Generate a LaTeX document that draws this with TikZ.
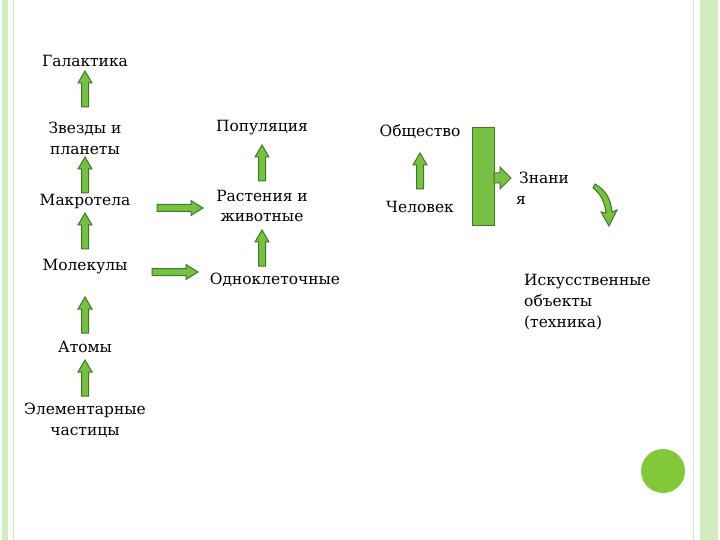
\documentclass[tikz,border=0pt]{standalone}
\usepackage{fontspec}
\setmainfont{DejaVu Serif}
\definecolor{ag}{HTML}{77C043}
\definecolor{ad}{HTML}{3E7A26}
\definecolor{fr}{HTML}{D2EDC0}
\begin{document}
\begin{tikzpicture}[x=1bp,y=-1bp,
  txt/.style={font=\fontsize{15.5}{21}\selectfont,align=center,inner sep=0},
  ltxt/.style={txt,align=left,anchor=west},
  arr/.style={fill=ag,draw=ad,line width=1bp},
  upar/.pic={\path[arr] (-3.5,0)--(-3.5,-24)--(-7,-24)--(0,-36)--(7,-24)--(3.5,-24)--(3.5,0)--cycle;},
  rtar/.pic={\path[arr] (0,-3.5)--(34,-3.5)--(34,-7.5)--(46,0)--(34,7.5)--(34,3.5)--(0,3.5)--cycle;}]
\useasboundingbox (0,0) rectangle (720,540);
\fill[fr] (2,0) rectangle (8,540);
\draw[fr,line width=1bp] (13,0)--(13,540);
\draw[fr,line width=1bp] (693,0)--(693,540);
\fill[fr] (700,0) rectangle (718,540);
\node[txt] (gal) at (85,61) {Галактика};
\node[txt] (zv) at (85,138) {Звезды и\\планеты};
\node[txt] (mak) at (85,201) {Макротела};
\node[txt] (mol) at (85,267) {Молекулы};
\node[txt] (at) at (85,347) {Атомы};
\node[txt] (el) at (85,420) {Элементарные\\частицы};
\node[txt] (pop) at (262,128) {Популяция};
\node[txt] (ras) at (262,206) {Растения и\\животные};
\node[txt] (odn) at (275,280) {Одноклеточные};
\node[txt] (ob) at (420,132) {Общество};
\node[txt] (ch) at (420,207) {Человек};
\node[ltxt] (zn) at (516,188) {\hspace*{3bp}Знани\\я};
\node[ltxt] (isk) at (524,302) {Искусственные\\объекты\\(техника)};
\pic at (85,107) {upar};
\pic at (85,193) {upar};
\pic at (85,249) {upar};
\pic at (85,333) {upar};
\pic at (85,396) {upar};
\pic at (262,181) {upar};
\pic at (262,266) {upar};
\pic at (420,189) {upar};
\pic at (157,208) {rtar};
\pic at (152,272) {rtar};
\path[arr] (472,128) rectangle (494,226);
\path[arr] (494,173)--(500,173)--(500,167)--(511,178)--(500,189)--(500,183)--(494,183)--cycle;
\path[arr] (595,184) .. controls (606,190) and (611,200) .. (612,212) -- (617,210) -- (609,226) -- (601,212) -- (606,213) .. controls (605,202) and (600,193) .. (593,188) -- cycle;
\fill[ag!85!lime] (663,471) circle (22);
\end{tikzpicture}
\end{document}
